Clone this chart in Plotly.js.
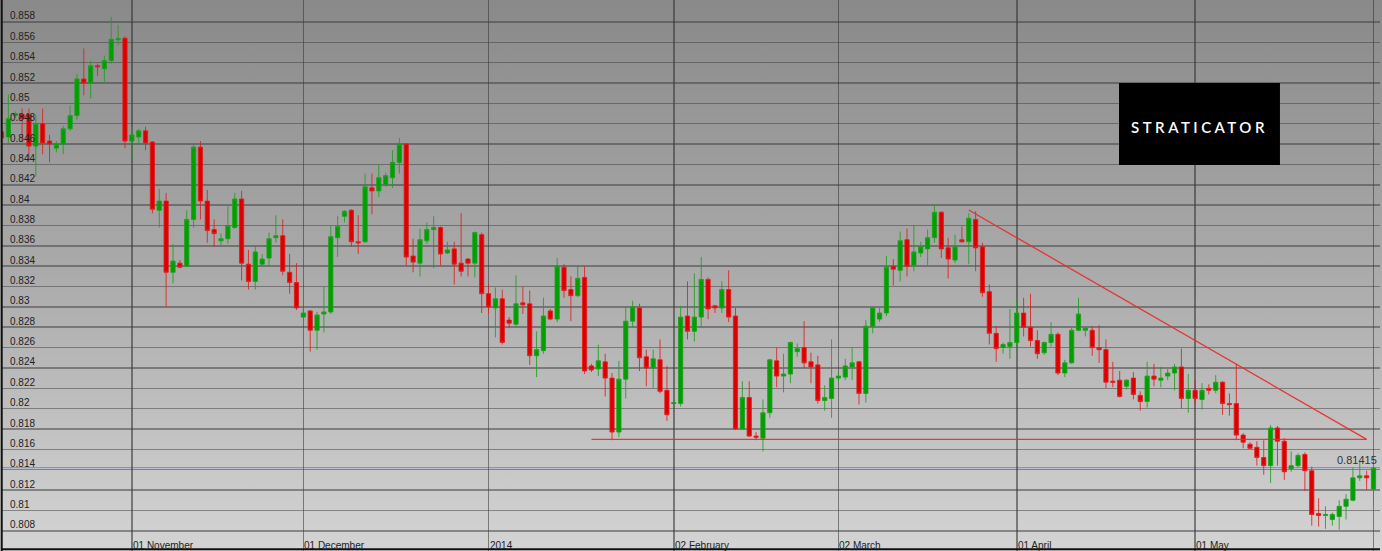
<!DOCTYPE html>
<html>
<head>
<meta charset="utf-8">
<script src="https://cdn.plot.ly/plotly-3.0.1.min.js"></script>
<style>
  html, body { margin: 0; padding: 0; background: #ffffff; }
  #chart { width: 1382px; height: 551px; background: linear-gradient(to bottom, #898989 0%, #ababab 50%, #d4d4d4 100%); }
</style>
</head>
<body>
<div id="chart"></div>
<script>
// Daily bars (Sunday–Friday), EUR/GBP style quotes
const dates = [
"2013-10-10","2013-10-11","2013-10-13","2013-10-14","2013-10-15","2013-10-16","2013-10-17","2013-10-18","2013-10-20","2013-10-21",
"2013-10-22","2013-10-23","2013-10-24","2013-10-25","2013-10-27","2013-10-28","2013-10-29","2013-10-30","2013-10-31","2013-11-01",
"2013-11-03","2013-11-04","2013-11-05","2013-11-06","2013-11-07","2013-11-08","2013-11-10","2013-11-11","2013-11-12","2013-11-13",
"2013-11-14","2013-11-15","2013-11-17","2013-11-18","2013-11-19","2013-11-20","2013-11-21","2013-11-22","2013-11-24","2013-11-25",
"2013-11-26","2013-11-27","2013-11-28","2013-11-29","2013-12-01","2013-12-02","2013-12-03","2013-12-04","2013-12-05","2013-12-06",
"2013-12-08","2013-12-09","2013-12-10","2013-12-11","2013-12-12","2013-12-13","2013-12-15","2013-12-16","2013-12-17","2013-12-18",
"2013-12-19","2013-12-20","2013-12-22","2013-12-23","2013-12-24","2013-12-25","2013-12-26","2013-12-27","2013-12-29","2013-12-30",
"2013-12-31","2014-01-01","2014-01-02","2014-01-03","2014-01-05","2014-01-06","2014-01-07","2014-01-08","2014-01-09","2014-01-10",
"2014-01-12","2014-01-13","2014-01-14","2014-01-15","2014-01-16","2014-01-17","2014-01-19","2014-01-20","2014-01-21","2014-01-22",
"2014-01-23","2014-01-24","2014-01-26","2014-01-27","2014-01-28","2014-01-29","2014-01-30","2014-01-31","2014-02-02","2014-02-03",
"2014-02-04","2014-02-05","2014-02-06","2014-02-07","2014-02-09","2014-02-10","2014-02-11","2014-02-12","2014-02-13","2014-02-14",
"2014-02-16","2014-02-17","2014-02-18","2014-02-19","2014-02-20","2014-02-21","2014-02-23","2014-02-24","2014-02-25","2014-02-26",
"2014-02-27","2014-02-28","2014-03-02","2014-03-03","2014-03-04","2014-03-05","2014-03-06","2014-03-07","2014-03-09","2014-03-10",
"2014-03-11","2014-03-12","2014-03-13","2014-03-14","2014-03-16","2014-03-17","2014-03-18","2014-03-19","2014-03-20","2014-03-21",
"2014-03-23","2014-03-24","2014-03-25","2014-03-26","2014-03-27","2014-03-28","2014-03-30","2014-03-31","2014-04-01","2014-04-02",
"2014-04-03","2014-04-04","2014-04-06","2014-04-07","2014-04-08","2014-04-09","2014-04-10","2014-04-11","2014-04-13","2014-04-14",
"2014-04-15","2014-04-16","2014-04-17","2014-04-18","2014-04-20","2014-04-21","2014-04-22","2014-04-23","2014-04-24","2014-04-25",
"2014-04-27","2014-04-28","2014-04-29","2014-04-30","2014-05-01","2014-05-02","2014-05-04","2014-05-05","2014-05-06","2014-05-07",
"2014-05-08","2014-05-09","2014-05-11","2014-05-12","2014-05-13","2014-05-14","2014-05-15","2014-05-16","2014-05-18","2014-05-19",
"2014-05-20","2014-05-21","2014-05-22","2014-05-23","2014-05-25","2014-05-26","2014-05-27","2014-05-28","2014-05-29","2014-05-30",
"2014-06-01"
];

const openP = [
0.8472,0.8467,0.8488,0.8489,0.8489,0.8458,0.8480,0.8463,0.8456,0.8460,
0.8475,0.8488,0.8524,0.8520,0.8537,0.8534,0.8542,0.85625,0.8564,0.8463,
0.8467,0.8473,0.8462,0.8395,0.8404,0.8334,0.8343,0.8340,0.8386,0.8457,
0.8404,0.8376,0.8365,0.8367,0.8378,0.8406,0.8342,0.8325,0.8342,0.8348,
0.8368,0.8370,0.8334,0.8324,0.8290,0.8296,0.8277,0.8293,0.8295,0.8368,
0.8389,0.8395,0.8364,0.8364,0.8417,0.8414,0.8420,0.8427,0.8442,0.8460,
0.8350,0.8343,0.8365,0.8376,0.8378,0.8353,0.8357,0.8343,0.8347,0.8343,
0.8371,0.8313,0.8299,0.8308,0.8287,0.8283,0.8304,0.8303,0.8252,0.8257,
0.8296,0.8288,0.8339,0.8317,0.8311,0.8329,0.8242,0.8239,0.8246,0.8230,
0.8177,0.8229,0.8286,0.8299,0.8251,0.8240,0.8248,0.8218,0.8205,0.8205,
0.8291,0.8276,0.8290,0.8327,0.8301,0.8299,0.8317,0.8291,0.8180,0.8211,
0.8173,0.8171,0.8196,0.8247,0.8232,0.8234,0.8256,0.8260,0.8246,0.8243,
0.8208,0.8210,0.8230,0.8231,0.8241,0.8246,0.8215,0.8281,0.8288,0.8294,
0.8340,0.8336,0.8366,0.8341,0.8353,0.8357,0.8368,0.8393,0.8358,0.8346,
0.8366,0.8364,0.8386,0.8359,0.8315,0.8274,0.8260,0.8261,0.8265,0.8294,
0.8280,0.8267,0.8255,0.8265,0.8273,0.8235,0.8245,0.8277,0.8277,0.8277,
0.8260,0.8258,0.8227,0.8228,0.8222,0.8230,0.8213,0.8207,0.8232,0.8228,
0.8232,0.8235,0.8241,0.8210,0.8218,0.8209,0.8220,0.8218,0.8226,0.8205,
0.8205,0.8174,0.8165,0.8162,0.8152,0.8144,0.8181,0.8168,0.8141,0.8144,
0.8155,0.8139,0.8097,0.8095,0.8091,0.8094,0.8104,0.8110,0.8132,0.8134,
0.8121
];

const highP = [
0.8474,0.8509,0.8492,0.8495,0.8495,0.8489,0.8495,0.8469,0.8463,0.8478,
0.8498,0.8529,0.8554,0.8542,0.8539,0.8547,0.8585,0.8577,0.8566,0.8477,
0.8475,0.8477,0.8463,0.8416,0.8412,0.8362,0.8346,0.8395,0.8460,0.8463,
0.8415,0.8386,0.8372,0.8399,0.8412,0.8414,0.8356,0.8360,0.8352,0.8373,
0.8390,0.8386,0.8352,0.8343,0.8300,0.8297,0.8295,0.8320,0.8380,0.8389,
0.8395,0.8396,0.8390,0.8431,0.8431,0.8440,0.8432,0.8454,0.8466,0.8461,
0.8367,0.8377,0.8383,0.8389,0.8379,0.8364,0.8364,0.8392,0.8348,0.8374,
0.8373,0.8322,0.8319,0.8317,0.8290,0.8331,0.8320,0.8316,0.8276,0.8309,
0.8298,0.8348,0.8342,0.8330,0.8341,0.8340,0.8244,0.8263,0.8254,0.8235,
0.8247,0.8300,0.8306,0.8303,0.8258,0.8258,0.8268,0.8242,0.8208,0.8301,
0.8325,0.8333,0.8349,0.8329,0.8302,0.8325,0.8336,0.8299,0.8227,0.8227,
0.8177,0.8209,0.8249,0.8260,0.8254,0.8266,0.8264,0.8286,0.8255,0.8252,
0.8223,0.8268,0.8237,0.8249,0.8260,0.8247,0.8287,0.8300,0.8299,0.8350,
0.8347,0.8374,0.8377,0.8380,0.8364,0.8376,0.8400,0.8394,0.8368,0.8371,
0.8379,0.8392,0.8394,0.8363,0.8322,0.8281,0.8265,0.8298,0.8307,0.8309,
0.8313,0.8277,0.8266,0.8285,0.8275,0.8248,0.8280,0.8309,0.8281,0.8281,
0.8282,0.8268,0.8246,0.8237,0.8229,0.8236,0.8217,0.8246,0.8244,0.8241,
0.8239,0.8244,0.8259,0.8234,0.8228,0.8225,0.8224,0.8233,0.8227,0.8215,
0.8244,0.8176,0.8167,0.8168,0.8169,0.8184,0.8183,0.8171,0.8158,0.8156,
0.8157,0.8143,0.8112,0.8104,0.8098,0.8110,0.8116,0.8142,0.8148,0.8139,
0.8142
];

const lowP = [
0.8463,0.8461,0.8486,0.8462,0.8444,0.8428,0.8450,0.8442,0.8452,0.8450,
0.8473,0.8484,0.8508,0.8505,0.8527,0.8520,0.8539,0.8557,0.8456,0.8445,
0.8459,0.8454,0.8392,0.8378,0.8300,0.8323,0.8338,0.8339,0.8378,0.8386,
0.8363,0.8359,0.8361,0.8362,0.8377,0.8326,0.8317,0.8317,0.8340,0.8341,
0.8363,0.8331,0.8313,0.8297,0.8289,0.8256,0.8258,0.8275,0.8293,0.8349,
0.8383,0.8359,0.8352,0.8363,0.8391,0.8408,0.8418,0.8417,0.8431,0.8341,
0.8334,0.8330,0.8362,0.8338,0.8341,0.8352,0.8322,0.8330,0.8330,0.8329,
0.8294,0.8294,0.8270,0.8263,0.8279,0.8281,0.8293,0.8243,0.8231,0.8254,
0.8287,0.8285,0.8309,0.8286,0.8310,0.8234,0.8236,0.8232,0.8212,0.8169,
0.8172,0.8210,0.8280,0.8237,0.8222,0.8220,0.8215,0.8188,0.8201,0.8202,
0.8268,0.8266,0.8280,0.8288,0.8294,0.8294,0.8285,0.8179,0.8179,0.8172,
0.8169,0.8158,0.8191,0.8221,0.8216,0.8225,0.8251,0.8240,0.8225,0.8205,
0.8198,0.8191,0.8227,0.8228,0.8228,0.8204,0.8206,0.8274,0.8285,0.8291,
0.8321,0.8325,0.8330,0.8335,0.8349,0.8341,0.8363,0.8348,0.8328,0.8343,
0.8363,0.8342,0.8335,0.8310,0.8263,0.8246,0.8254,0.8249,0.8260,0.8271,
0.8261,0.8249,0.8253,0.8261,0.8233,0.8231,0.8244,0.8276,0.8271,0.8252,
0.8245,0.8220,0.8221,0.8211,0.8219,0.8209,0.8198,0.8201,0.8222,0.8221,
0.8228,0.8218,0.8200,0.8196,0.8204,0.8199,0.8214,0.8215,0.8194,0.8193,
0.8169,0.8161,0.8160,0.8144,0.8135,0.8127,0.8144,0.8130,0.8138,0.8142,
0.8119,0.8085,0.8084,0.8082,0.8085,0.8081,0.8091,0.8109,0.8129,0.8120,
0.8105
];

const closeP = [
0.8466,0.8485,0.8490,0.8485,0.8458,0.8480,0.8461,0.8460,0.8460,0.8475,
0.8488,0.8524,0.8520,0.8537,0.8536,0.8542,0.8563,0.85638,0.8463,0.8469,
0.8473,0.8461,0.8396,0.8404,0.8334,0.8345,0.8339,0.8386,0.8457,0.8404,
0.8375,0.8372,0.8367,0.8380,0.8406,0.8343,0.8325,0.8354,0.8347,0.8367,
0.8370,0.8335,0.8324,0.8299,0.8294,0.8277,0.8292,0.8295,0.8369,0.8379,
0.8394,0.8364,0.8363,0.8418,0.8414,0.8427,0.8429,0.8442,0.8460,0.8349,
0.8344,0.8366,0.8376,0.8378,0.8352,0.8356,0.8342,0.8335,0.8343,0.8373,
0.8313,0.8300,0.8308,0.8265,0.8284,0.8303,0.8302,0.8252,0.8258,0.8291,
0.8288,0.8340,0.8316,0.8311,0.8328,0.8237,0.8238,0.8247,0.8230,0.8177,
0.8229,0.8286,0.8300,0.8250,0.8240,0.8249,0.8217,0.8194,0.8206,0.8290,
0.8276,0.8290,0.8327,0.8298,0.8299,0.8317,0.8290,0.8180,0.8211,0.8173,
0.8172,0.8196,0.8248,0.8232,0.8234,0.8265,0.8259,0.8245,0.8241,0.8208,
0.8211,0.8230,0.8232,0.8242,0.8245,0.8215,0.8281,0.8299,0.8294,0.8339,
0.8337,0.8365,0.8340,0.8354,0.8359,0.8368,0.8393,0.8357,0.8347,0.8359,
0.8364,0.8387,0.8358,0.8314,0.8274,0.8259,0.8263,0.8265,0.8294,0.8280,
0.8267,0.8254,0.8265,0.8273,0.8235,0.8245,0.8277,0.8293,0.8279,0.8260,
0.8258,0.8226,0.8226,0.8212,0.8228,0.8214,0.8207,0.8232,0.8229,0.8230,
0.8235,0.8241,0.8210,0.8218,0.8210,0.8218,0.8218,0.8226,0.8205,0.8204,
0.8174,0.8167,0.8161,0.8152,0.8144,0.8181,0.8168,0.8138,0.8144,0.8154,
0.8139,0.8096,0.8095,0.8096,0.8096,0.8104,0.8111,0.8132,0.8134,0.8132,
0.81415
];

// Month grid lines and their labels
const monthTicks  = ["2013-11-01","2013-12-01","2014-01-01","2014-02-02","2014-03-02","2014-04-01","2014-05-01","2014-06-01"];
const monthLabels = ["01 November","01 December","2014","02 February","02 March","01 April","01 May",""];

// Price axis ticks
const priceTicks = [0.808,0.810,0.812,0.814,0.816,0.818,0.820,0.822,0.824,0.826,0.828,0.830,0.832,0.834,0.836,0.838,0.840,0.842,0.844,0.846,0.848,0.850,0.852,0.854,0.856,0.858];
const priceLabels = ["0.808","0.81","0.812","0.814","0.816","0.818","0.82","0.822","0.824","0.826","0.828","0.83","0.832","0.834","0.836","0.838","0.84","0.842","0.844","0.846","0.848","0.85","0.852","0.854","0.856","0.858"];

// Drawn analysis lines (bar index, price)
const supportLine = {x0: 86, y0: 0.81698, x1: 199, y1: 0.81698};
const trendLine   = {x0: 141, y0: 0.83952, x1: 199, y1: 0.81698};
const lastPrice = 0.81415;
const lastPriceLine = 0.81420;

const trace = {
  type: 'candlestick',
  x: dates,
  open: openP, high: highP, low: lowP, close: closeP,
  increasing: {line: {color: 'rgba(30,160,30,0.85)', width: 1}, fillcolor: '#00a000'},
  decreasing: {line: {color: 'rgba(225,30,30,0.85)', width: 1}, fillcolor: '#dd0000'},
  whiskerwidth: 0,
  hoverinfo: 'x+y',
  showlegend: false
};

const annotations = [];
monthTicks.forEach((d, k) => {
  if (monthLabels[k]) {
    annotations.push({
      x: d, xref: 'x', y: 0, yref: 'paper',
      xanchor: 'left', yanchor: 'bottom', xshift: -1, yshift: -2,
      text: monthLabels[k], showarrow: false,
      font: {family: 'Liberation Sans, Arial, sans-serif', size: 10, color: '#222222'}
    });
  }
});
annotations.push({
  x: 1, xref: 'paper', y: lastPrice, yref: 'y',
  xanchor: 'right', yanchor: 'bottom', xshift: -1, yshift: 0,
  text: String(lastPrice), showarrow: false,
  font: {family: 'Liberation Sans, Arial, sans-serif', size: 11, color: '#333333'}
});
annotations.push({
  x: 0.8687, xref: 'paper', y: 0.7695, yref: 'paper',
  xanchor: 'center', yanchor: 'middle',
  text: '<span style="letter-spacing:3.5px">STRATICATOR</span>', showarrow: false,
  font: {family: 'Lato, DejaVu Sans, sans-serif', size: 15, color: '#ffffff', weight: 600}
});

const shapes = [
  // logo box
  {type: 'rect', xref: 'paper', yref: 'paper', x0: 0.8106, x1: 0.9274, y0: 0.7005, y1: 0.8494,
   fillcolor: '#000000', line: {width: 0}, layer: 'above'},
  // current price line
  {type: 'line', xref: 'paper', yref: 'y', x0: 0, x1: 1, y0: lastPriceLine, y1: lastPriceLine,
   line: {color: 'rgba(100,125,235,0.85)', width: 1}, layer: 'below'},
  // support line
  {type: 'line', xref: 'x', yref: 'y', x0: supportLine.x0, x1: supportLine.x1, y0: supportLine.y0, y1: supportLine.y1,
   line: {color: 'rgba(235,40,40,0.9)', width: 1.3}},
  // downward trend line
  {type: 'line', xref: 'x', yref: 'y', x0: trendLine.x0, x1: trendLine.x1, y0: trendLine.y0, y1: trendLine.y1,
   line: {color: 'rgba(235,40,40,0.9)', width: 1.3}},
  // frame
  {type: 'line', xref: 'paper', yref: 'paper', x0: -0.0002, x1: -0.0002, y0: 0, y1: 1,
   line: {color: '#111111', width: 2}},
  {type: 'line', xref: 'paper', yref: 'paper', x0: 0, x1: 1, y0: 0.003, y1: 0.003,
   line: {color: '#111111', width: 2}}
];

const layout = {
  width: 1382, height: 551,
  margin: {l: 2, r: 2, t: 0, b: 0, pad: 0},
  paper_bgcolor: 'rgba(0,0,0,0)',
  plot_bgcolor: 'rgba(0,0,0,0)',
  boxgap: 0.12,
  showlegend: false,
  xaxis: {
    type: 'category',
    range: [0.073, 200.948],
    rangeslider: {visible: false},
    tickmode: 'array', tickvals: monthTicks, ticktext: monthLabels,
    showticklabels: false, ticks: '',
    showgrid: true, gridcolor: 'rgba(50,50,50,0.55)', gridwidth: 1.5,
    zeroline: false, showline: false, fixedrange: true
  },
  yaxis: {
    range: [0.80601, 0.86016],
    tickmode: 'array', tickvals: priceTicks, ticktext: priceLabels,
    ticklabelposition: 'inside', ticks: '',
    ticklabelstandoff: 5, ticklabelshift: -6,
    tickfont: {family: 'Liberation Sans, Arial, sans-serif', size: 10, color: '#222222'},
    showgrid: true, gridcolor: 'rgba(60,60,60,0.5)', gridwidth: 1.5,
    zeroline: false, showline: false, fixedrange: true
  },
  annotations: annotations,
  shapes: shapes
};

Plotly.newPlot('chart', [trace], layout, {displayModeBar: false, staticPlot: true});
</script>
</body>
</html>
